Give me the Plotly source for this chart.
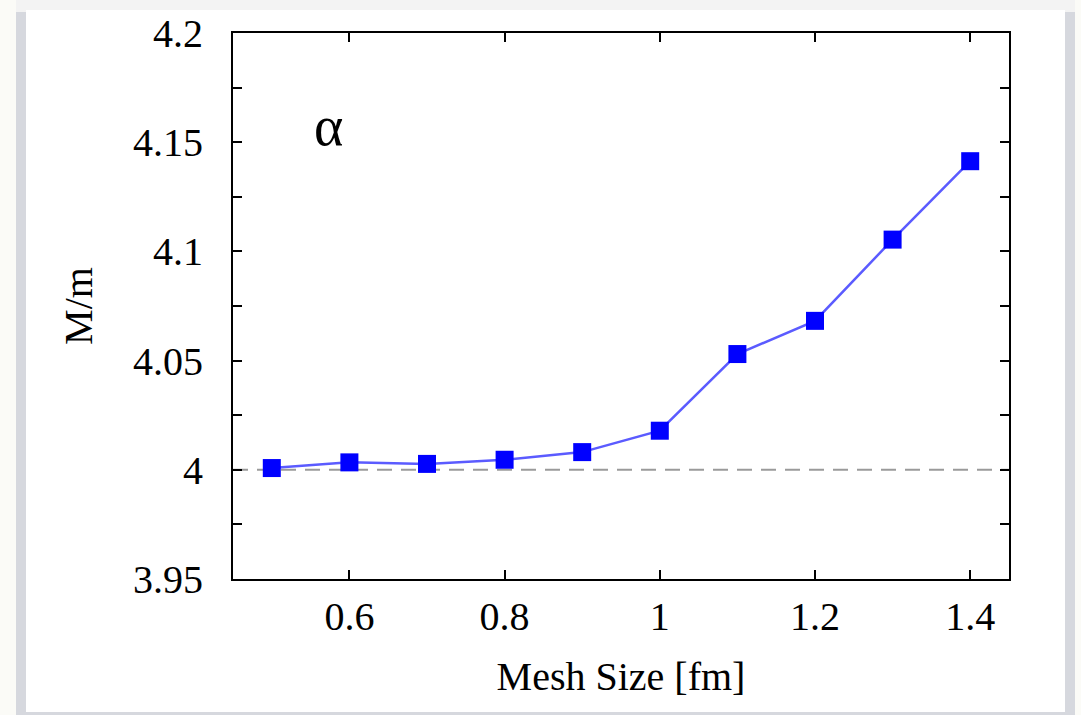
import plotly.graph_objects as go

# Mesh size [fm] and the resulting mass ratio M/m for the alpha particle
mesh_size = [0.5, 0.6, 0.7, 0.8, 0.9, 1.0, 1.1, 1.2, 1.3, 1.4]
mass_ratio = [4.0008, 4.0034, 4.0027, 4.0046, 4.0081, 4.0179, 4.0530, 4.0682, 4.1054, 4.1413]

# Exact value the ratio should converge to
reference_ratio = 4.0

x_tick_vals = [0.6, 0.8, 1.0, 1.2, 1.4]
x_tick_text = ["0.6", "0.8", "1", "1.2", "1.4"]
y_tick_vals = [3.95, 4.0, 4.05, 4.1, 4.15, 4.2]
y_tick_text = ["3.95", "4", "4.05", "4.1", "4.15", "4.2"]

W, H = 1081, 715
L, R, T, B = 233, 72, 33, 136
PW, PH = W - L - R, H - T - B


def px(x):
    return (x - L) / PW


def py(y):
    return (H - B - y) / PH


FONT = "Liberation Serif"
FS = 40

fig = go.Figure()

fig.add_trace(go.Scatter(
    x=mesh_size,
    y=mass_ratio,
    mode="lines+markers",
    line=dict(color="#5b5bff", width=2.5),
    marker=dict(symbol="square", size=18, color="#0000ff", line=dict(width=0)),
    showlegend=False,
    cliponaxis=False,
))

axis_common = dict(
    showgrid=False,
    zeroline=False,
    showline=True,
    linecolor="black",
    linewidth=2,
    mirror="allticks",
    ticks="inside",
    ticklen=9,
    tickwidth=2,
    tickcolor="black",
    tickfont=dict(family=FONT, size=FS, color="black"),
)

fig.update_xaxes(
    range=[0.45, 1.45],
    tickvals=x_tick_vals,
    ticktext=x_tick_text,
    ticklabelstandoff=1,
    title=dict(text="Mesh Size [fm]", font=dict(family=FONT, size=FS, color="black"), standoff=24),
    **axis_common,
)
fig.update_yaxes(
    range=[3.95, 4.2],
    tickvals=y_tick_vals,
    ticktext=y_tick_text,
    ticklabelstandoff=20,
    minor=dict(dtick=0.025, tick0=3.95, ticks="inside", ticklen=9, tickwidth=2, tickcolor="black"),
    title=dict(text="M/m", font=dict(family=FONT, size=FS, color="black"), standoff=28),
    **axis_common,
)

shapes = [
    # page frame and white card
    dict(type="rect", xref="paper", yref="paper", x0=px(16), x1=px(1075), y0=py(715), y1=py(6),
         fillcolor="#d6d8de", line=dict(width=0), layer="below"),
    dict(type="rect", xref="paper", yref="paper", x0=px(16), x1=px(1075), y0=py(12), y1=py(0),
         fillcolor="#f3f3f3", line=dict(width=0), layer="below"),
    dict(type="rect", xref="paper", yref="paper", x0=px(26), x1=px(1065), y0=py(712), y1=py(10),
         fillcolor="white", line=dict(width=0), layer="below"),
    # reference line at the exact ratio
    dict(type="line", xref="paper", yref="y", x0=0, x1=1, y0=reference_ratio, y1=reference_ratio,
         line=dict(color="#9a9a9a", width=2, dash="15px,9px"), layer="below"),
]

fig.update_layout(
    width=W,
    height=H,
    margin=dict(l=L, r=R, t=T, b=B, autoexpand=False),
    paper_bgcolor="#fbfbf7",
    plot_bgcolor="rgba(0,0,0,0)",
    shapes=shapes,
    annotations=[dict(
        text="α", xref="paper", yref="paper", x=px(328), y=py(126),
        showarrow=False, font=dict(family=FONT, size=56, color="black"),
        xanchor="center", yanchor="middle",
    )],
)

fig.write_html("out.html")
